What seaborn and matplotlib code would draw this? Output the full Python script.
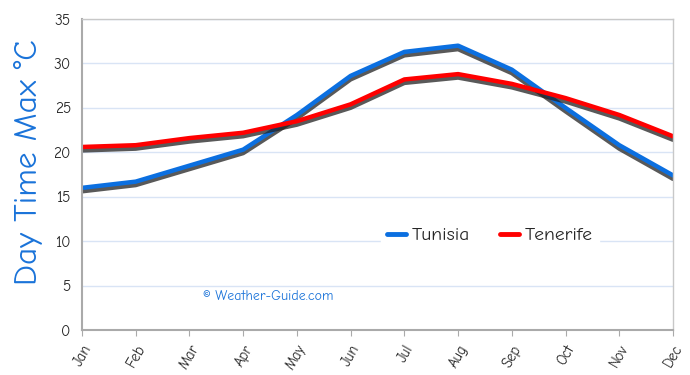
import numpy as np
import pandas as pd
import seaborn as sns
import matplotlib.pyplot as plt
import matplotlib.patheffects as pe
from matplotlib.lines import Line2D

months = ['Jan', 'Feb', 'Mar', 'Apr', 'May', 'Jun', 'Jul', 'Aug', 'Sep', 'Oct', 'Nov', 'Dec']
tunisia = [16.0, 16.7, 18.5, 20.3, 24.2, 28.6, 31.3, 32.0, 29.3, 25.0, 20.8, 17.4]
tenerife = [20.6, 20.8, 21.6, 22.2, 23.5, 25.4, 28.2, 28.8, 27.7, 26.1, 24.2, 21.8]

df = pd.DataFrame({'month': months * 2,
                   'temp': tunisia + tenerife,
                   'place': ['Tunisia'] * 12 + ['Tenerife'] * 12})
df['pos'] = list(range(12)) * 2

sns.set_style('white')
plt.rcParams['font.family'] = ['Comic Neue', 'Lato', 'DejaVu Sans']

fig = plt.figure(figsize=(6.9, 3.75), dpi=100)
ax = fig.add_axes([0.1188, 0.12, 0.8566, 0.8293])

blue = '#0b6fe0'
red = '#ff0000'
shadow = [pe.SimpleLineShadow(offset=(0, -2.5), shadow_color='#222222', alpha=0.75),
          pe.Normal()]
sns.lineplot(data=df, x='pos', y='temp', hue='place', palette={'Tunisia': blue, 'Tenerife': red},
             lw=3.2, ax=ax, legend=False, sort=True)
for line in ax.get_lines():
    line.set_path_effects(shadow)
    line.set_solid_joinstyle('round')
    line.set_solid_capstyle('round')

ax.set_xlim(0, 11)
ax.set_ylim(0, 35)
ax.set_yticks(range(0, 36, 5))
ax.set_xticks(range(12))
ax.set_xticklabels(months, rotation=60, ha='right', rotation_mode='anchor', fontsize=10.5)
ax.tick_params(axis='y', labelsize=11, length=4, color='#aaaaaa', pad=4)
ax.tick_params(axis='x', length=4, color='#aaaaaa', pad=5, bottom=True)
ax.grid(axis='y', color='#d9e4f5', lw=1)
ax.set_axisbelow(True)
for s in ['left', 'bottom']:
    ax.spines[s].set_color('#aaaaaa')
    ax.spines[s].set_linewidth(1.5)
for s in ['top', 'right']:
    ax.spines[s].set_color('#c8c8c8')
    ax.spines[s].set_linewidth(1)

ax.set_xlabel('')
ax.set_ylabel('Day Time Max °C', color='#1a73d9', fontsize=24, labelpad=4)
ax.yaxis.set_label_coords(-0.066, 0.54)

ax.text(0.205, 0.095, '© Weather-Guide.com', transform=ax.transAxes, color='#1a73d9', fontsize=10)

handles = [Line2D([], [], color=blue, lw=3.5), Line2D([], [], color=red, lw=3.5)]
leg = ax.legend(handles, ['Tunisia', 'Tenerife'], loc='center', bbox_to_anchor=(0.69, 0.305),
                ncol=2, frameon=True, fontsize=14, handlelength=1.0, handletextpad=0.3,
                columnspacing=1.5, borderpad=0.3)
leg.get_frame().set_edgecolor('white')
leg.get_frame().set_facecolor('white')
leg.get_frame().set_alpha(1)

fig.savefig('out.png', dpi=100)
